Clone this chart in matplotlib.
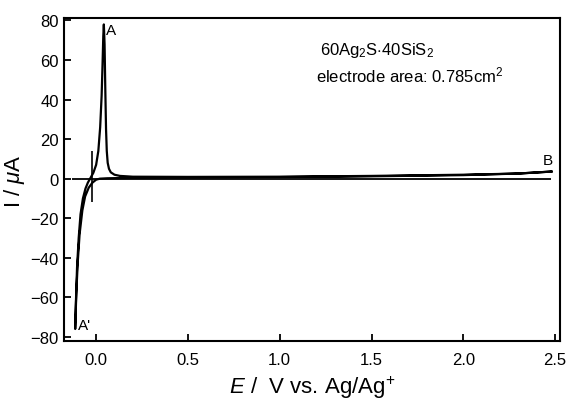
import matplotlib
matplotlib.use("Agg")
import matplotlib.pyplot as plt

plt.rcParams['font.family'] = ['Liberation Sans', 'DejaVu Sans']
plt.rcParams['mathtext.fontset'] = 'custom'
plt.rcParams['mathtext.rm'] = 'Liberation Sans'
plt.rcParams['mathtext.it'] = 'Liberation Sans:italic'

# cyclic voltammogram (V vs. Ag/Ag+, uA), traced from B back to A' and up through A
potential = [2.48, 2.3, 2.0, 1.5, 1.0, 0.5, 0.2, 0.12, 0.06, 0.02, 0.0,
             -0.02, -0.04, -0.06, -0.075, -0.09, -0.1, -0.108, -0.114,
             -0.11, -0.104, -0.095, -0.085, -0.072, -0.058, -0.045, -0.03,
             -0.015, 0.0, 0.012, 0.022, 0.03, 0.035, 0.039, 0.042,
             0.046, 0.05, 0.054, 0.058, 0.063, 0.07, 0.08, 0.1, 0.13,
             0.2, 0.5, 1.0, 1.5, 2.0, 2.3, 2.48]
current = [3.6, 2.6, 1.8, 1.2, 0.8, 0.5, 0.4, 0.3, 0.2, 0.0, -0.5,
           -2.0, -4.5, -9.0, -16.0, -28.0, -42.0, -58.0, -76.0,
           -62.0, -45.0, -30.0, -18.0, -10.0, -5.0, -2.0, 0.5,
           3.0, 7.0, 14.0, 26.0, 42.0, 58.0, 72.0, 78.0,
           68.0, 45.0, 25.0, 14.0, 8.0, 5.0, 3.2, 2.0, 1.4,
           1.0, 0.9, 1.0, 1.4, 2.0, 2.6, 3.6]

# start-potential marker and zero line
marker_x = -0.02
marker_y = [-12, 14]
zero_x = [-0.13, 2.48]

fig = plt.figure(figsize=(5.68, 4.06), dpi=100)
ax = fig.add_axes([0.113, 0.158, 0.873, 0.794])

ax.plot(potential, current, color='black', linewidth=1.6, solid_joinstyle='round')
ax.hlines(0, zero_x[0], zero_x[1], color='black', linewidth=1.3)
ax.vlines(marker_x, marker_y[0], marker_y[1], color='black', linewidth=1.2)

ax.text(0.055, 75, "A", fontsize=11, ha='left', va='center')
ax.text(-0.1, -74, "A'", fontsize=11, ha='left', va='center')
ax.text(2.46, 9.5, "B", fontsize=11, ha='center', va='center')

ax.text(1.22, 65.5, r'60Ag$_2$S$\cdot$40SiS$_2$', fontsize=12, ha='left', va='center')
ax.text(1.2, 52.5, r'electrode area: 0.785cm$^2$', fontsize=12, ha='left', va='center')

ax.set_xlim(-0.174, 2.527)
ax.set_ylim(-82, 81)
ax.set_xticks([0.0, 0.5, 1.0, 1.5, 2.0, 2.5])
ax.set_xticklabels(['0.0', '0.5', '1.0', '1.5', '2.0', '2.5'])
ax.set_yticks([80, 60, 40, 20, 0, -20, -40, -60, -80])

ax.tick_params(direction='in', length=5, width=1.3, labelsize=12,
               top=False, right=False)
ax.tick_params(axis='x', pad=8)
ax.tick_params(axis='y', pad=4)
for sp in ax.spines.values():
    sp.set_linewidth(1.5)

ax.set_xlabel(r'$E$ /  V vs. Ag/Ag$^{+}$', fontsize=16, labelpad=5)
ax.set_ylabel(r'I / $\mu$A', fontsize=16, labelpad=2)

plt.savefig('out.png', dpi=100)
plt.close()
